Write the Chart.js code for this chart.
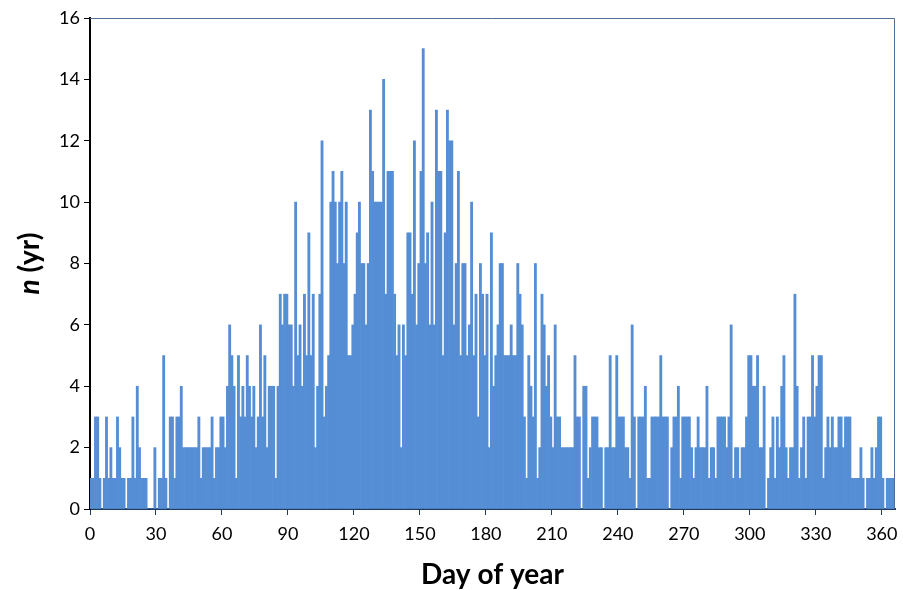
<!DOCTYPE html>
<html>
<head>
<meta charset="utf-8">
<script src="https://cdn.jsdelivr.net/npm/chart.js@4"></script>
<style>
  html, body { margin: 0; padding: 0; background: #fff; }
  #wrap { width: 903px; height: 590px; }
</style>
</head>
<body>
<div id="wrap"><canvas id="dayChart" width="903" height="590"></canvas></div>
<script>
// days 0..365 and number of years per day
const counts = [
  1,1,3,3,1,0,1,3,1,2, 1,1,3,2,1,1,0,1,1,3, 1,4,2,1,1,1,0,0,0,2,
  0,1,1,5,1,0,3,3,1,3, 3,4,2,2,2,2,2,2,2,3, 1,2,2,2,2,3,1,2,2,3,
  3,2,4,6,5,4,1,5,3,4, 3,5,4,3,4,2,3,6,3,5, 2,4,4,4,1,4,7,6,7,7,
  6,6,4,10,5,6,4,7,5,9, 5,7,2,4,7,12,3,4,5,10, 11,10,8,10,11,8,10,5,5,6,
  7,9,10,8,8,6,8,13,11,10, 10,10,10,14,7,11,11,11,7,5, 6,2,6,5,9,9,7,12,6,8,
  11,15,8,9,6,10,6,13,11,11, 5,9,13,12,12,6,8,11,5,8, 8,5,6,10,5,7,3,8,7,5,
  7,2,9,4,5,6,8,8,5,5, 5,6,5,5,8,7,6,3,1,5, 4,3,8,1,2,7,6,4,5,3,
  2,6,3,3,2,2,2,2,2,2, 5,3,3,0,4,4,1,2,3,3, 3,2,2,0,2,2,5,2,2,5,
  3,3,3,2,2,1,6,3,0,3, 3,3,4,1,1,3,3,3,3,5, 3,3,3,0,2,3,3,4,1,3,
  3,3,3,2,1,2,3,2,2,2, 4,1,2,2,1,3,3,3,3,2, 3,6,1,2,2,1,2,2,3,5,
  5,4,4,5,2,2,4,0,1,2, 3,1,3,2,4,5,2,1,2,2, 7,4,1,2,3,1,3,3,5,3,
  4,5,5,1,2,3,2,3,2,2, 3,3,2,3,3,3,1,1,1,1, 2,1,0,1,1,2,1,2,3,3,
  1,0,1,1,1,1
];
const days = counts.map((c, i) => i);
const xTicks = [0, 30, 60, 90, 120, 150, 180, 210, 240, 270, 300, 330, 360];
const yTicks = [0, 2, 4, 6, 8, 10, 12, 14, 16];

const FONT = 'Lato, "Open Sans", sans-serif';

// frame on top/right plus y title with italic n
const framePlugin = {
  id: 'framePlugin',
  afterDraw(chart) {
    const { ctx, chartArea: a } = chart;
    ctx.save();
    ctx.strokeStyle = '#4f6f94';
    ctx.lineWidth = 1;
    ctx.beginPath();
    ctx.moveTo(a.left, a.top + 0.5);
    ctx.lineTo(a.right - 0.5, a.top + 0.5);
    ctx.lineTo(a.right - 0.5, a.bottom);
    ctx.stroke();

    // y axis title
    ctx.translate(30, (a.top + a.bottom) / 2);
    ctx.rotate(-Math.PI / 2);
    ctx.fillStyle = '#000';
    ctx.textBaseline = 'middle';
    ctx.font = 'italic bold 28px ' + FONT;
    const w1 = ctx.measureText('n').width;
    ctx.font = 'bold 28px ' + FONT;
    const w2 = ctx.measureText(' (yr)').width;
    let x = -(w1 + w2) / 2;
    ctx.font = 'italic bold 28px ' + FONT;
    ctx.fillText('n', x, 0);
    ctx.font = 'bold 28px ' + FONT;
    ctx.fillText(' (yr)', x + w1, 0);
    ctx.restore();
  }
};

const ctx = document.getElementById('dayChart').getContext('2d');
new Chart(ctx, {
  type: 'bar',
  data: {
    datasets: [{
      data: days.map((d, i) => ({ x: d + 0.5, y: counts[i] })),
      backgroundColor: '#558ed5',
      borderWidth: 0,
      barPercentage: 1,
      categoryPercentage: 1
    }]
  },
  options: {
    responsive: false,
    animation: false,
    layout: { padding: { top: 18, right: 8, left: 0, bottom: 0 } },
    plugins: { legend: { display: false }, tooltip: { enabled: false } },
    scales: {
      x: {
        type: 'linear',
        min: 0,
        max: 366,
        offset: false,
        afterBuildTicks: s => { s.ticks = xTicks.map(v => ({ value: v })); },
        afterFit: s => { s.height = 81; s.paddingRight = 0; s.paddingLeft = 0; },
        ticks: { includeBounds: false, color: '#000', font: { family: FONT, size: 18 }, padding: 8, maxRotation: 0 },
        grid: { offset: false, drawOnChartArea: false, tickLength: 6, color: '#1f3a5f' },
        border: { color: '#1f3a5f', width: 2 },
        title: { display: true, text: 'Day of year', color: '#000', font: { family: FONT, size: 28, weight: 'bold' }, padding: { top: 0, bottom: -2 } }
      },
      y: {
        min: 0,
        max: 16,
        afterBuildTicks: s => { s.ticks = yTicks.map(v => ({ value: v })); },
        afterFit: s => { s.width = 90; s.paddingTop = 0; s.paddingBottom = 0; },
        ticks: { color: '#000', font: { family: FONT, size: 18 }, padding: 4 },
        grid: { drawOnChartArea: false, tickLength: 6, color: '#000' },
        border: { color: '#000', width: 2 }
      }
    }
  },
  plugins: [framePlugin]
});
</script>
</body>
</html>
